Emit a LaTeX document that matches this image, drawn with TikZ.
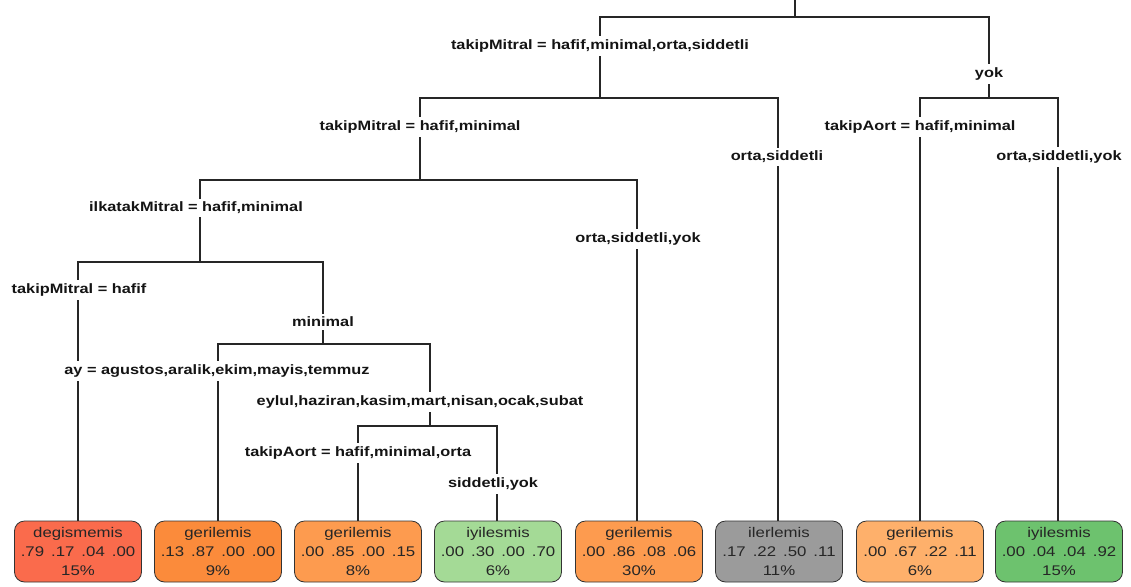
\documentclass[tikz,border=0pt]{standalone}
\usepackage{fontspec}
\setmainfont{Liberation Sans}[FakeStretch=1.2]
\begin{document}
\pgfdeclarelayer{bg}
\pgfsetlayers{bg,main}
\begin{tikzpicture}[x=1pt,y=-1pt,
  splitlabel/.style={fill=white,inner xsep=1pt,inner ysep=3.5pt,
    font=\bfseries\fontsize{13.6}{15}\selectfont,text=black!92},
  leafbox/.style={draw=black!80,line width=0.8pt,rounded corners=10pt,
    minimum width=127pt,minimum height=61pt,inner sep=0pt,align=center,
    font=\fontsize{14}{19}\selectfont,text=black!85},
  branch/.style={draw=black!85,line width=1.1pt}]
\definecolor{cDeg}{HTML}{FA6B4C}
\definecolor{cGerA}{HTML}{FB8B3B}
\definecolor{cGerB}{HTML}{FD9B4F}
\definecolor{cGerC}{HTML}{FEB06B}
\definecolor{cIyiA}{HTML}{A4DA96}
\definecolor{cIyiB}{HTML}{6DC26E}
\definecolor{cIler}{HTML}{9B9B9B}
\newcommand{\probs}[4]{#1\,\ #2\,\ #3\,\ #4}
\useasboundingbox (0,0) rectangle (1131,586);

% split points (horizontal bars)
\coordinate (top) at (795,0);
\coordinate (n0) at (795,17);
\coordinate (n1) at (600,98);
\coordinate (n2) at (989,98);
\coordinate (n3) at (420,180);
\coordinate (n4) at (200,262);
\coordinate (n5) at (323,344);
\coordinate (n6) at (430,426);

% leaves
\node[leafbox,fill=cDeg]  (l1) at (78,551.5)  {degismemis\\\probs{.79}{.17}{.04}{.00}\\15\%};
\node[leafbox,fill=cGerA] (l2) at (218,551.5) {gerilemis\\\probs{.13}{.87}{.00}{.00}\\9\%};
\node[leafbox,fill=cGerB] (l3) at (358,551.5) {gerilemis\\\probs{.00}{.85}{.00}{.15}\\8\%};
\node[leafbox,fill=cIyiA] (l4) at (498,551.5) {iyilesmis\\\probs{.00}{.30}{.00}{.70}\\6\%};
\node[leafbox,fill=cGerB] (l5) at (639,551.5) {gerilemis\\\probs{.00}{.86}{.08}{.06}\\30\%};
\node[leafbox,fill=cIler] (l6) at (779,551.5) {ilerlemis\\\probs{.17}{.22}{.50}{.11}\\11\%};
\node[leafbox,fill=cGerC] (l7) at (920,551.5) {gerilemis\\\probs{.00}{.67}{.22}{.11}\\6\%};
\node[leafbox,fill=cIyiB] (l8) at (1059,551.5) {iyilesmis\\\probs{.00}{.04}{.04}{.92}\\15\%};

% split labels
\node[splitlabel] (e01) at (600,46)  {takipMitral = hafif,minimal,orta,siddetli};
\node[splitlabel] (e02) at (989,74)  {yok};
\node[splitlabel] (e13) at (420,127) {takipMitral = hafif,minimal};
\node[splitlabel] (e16) at (777,157) {orta,siddetli};
\node[splitlabel] (e27) at (920,127) {takipAort = hafif,minimal};
\node[splitlabel] (e28) at (1059,157) {orta,siddetli,yok};
\node[splitlabel] (e34) at (196,208) {ilkatakMitral = hafif,minimal};
\node[splitlabel] (e35) at (638,239) {orta,siddetli,yok};
\node[splitlabel] (e41) at (79,290)  {takipMitral = hafif};
\node[splitlabel] (e45) at (323,322) {minimal};
\node[splitlabel] (e52) at (217,371) {ay = agustos,aralik,ekim,mayis,temmuz};
\node[splitlabel] (e56) at (420,402) {eylul,haziran,kasim,mart,nisan,ocak,subat};
\node[splitlabel] (e63) at (358,453) {takipAort = hafif,minimal,orta};
\node[splitlabel] (e64) at (493,484) {siddetli,yok};

% branches, behind the labels and leaves
\begin{pgfonlayer}{bg}
\draw[branch] (top) -- (n0);
\draw[branch] (n0) -| (n1);
\draw[branch] (n0) -| (n2);
\draw[branch] (n1) -| (n3);
\draw[branch] (n1) -| (l6.north -| 778,0);
\draw[branch] (n2) -| (l7.north -| 920,0);
\draw[branch] (n2) -| (l8.north -| 1058,0);
\draw[branch] (n3) -| (n4);
\draw[branch] (n3) -| (l5.north -| 637,0);
\draw[branch] (n4) -| (l1.north);
\draw[branch] (n4) -| (n5);
\draw[branch] (n5) -| (l2.north);
\draw[branch] (n5) -| (n6);
\draw[branch] (n6) -| (l3.north);
\draw[branch] (n6) -| (l4.north -| 497,0);
\end{pgfonlayer}
\end{tikzpicture}
\end{document}
